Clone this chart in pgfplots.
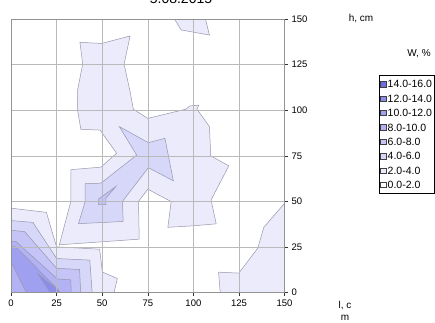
\documentclass[border=0pt]{standalone}
\usepackage{pgfplots}
\pgfplotsset{compat=1.18}
\usepackage{fontspec}
\setmainfont{Liberation Sans}

\definecolor{cA}{RGB}{235,235,252}
\definecolor{cB}{RGB}{215,215,250}
\definecolor{cC}{RGB}{196,196,247}
\definecolor{cD}{RGB}{178,178,244}
\definecolor{cE}{RGB}{160,160,240}
\definecolor{cF}{RGB}{140,140,236}
\definecolor{cG}{RGB}{110,110,222}
\definecolor{edge}{RGB}{150,150,172}

\begin{document}
\begin{tikzpicture}
\begin{axis}[
  scale only axis, width=273.6pt, height=273.6pt,
  xmin=0, xmax=150, ymin=0, ymax=150,
  xtick={0,25,...,150}, ytick={0,25,...,150},
  xtick pos=lower, ytick pos=right,
  yticklabel pos=right,
  tick align=outside, major tick length=3.5pt,
  grid=major, major grid style={gray!55, line width=0.6pt},
  axis line style={gray!85, line width=0.6pt},
  tick style={black!80, line width=0.6pt},
  ticklabel style={font=\fontsize{9.5}{11}\selectfont},
  /pgf/number format/assume math mode=true,
  axis on top,
  legend cell align=left,
  legend image code/.code={\draw[#1, draw=black!75, line width=0.5pt] (0pt,-2.7pt) rectangle (5.4pt,2.7pt);},
  legend style={at={(1.345,0.795)}, anchor=north west, draw=black, line width=0.6pt,
    font=\fontsize{10.5}{12}\selectfont, inner xsep=1pt, inner ysep=1.5pt, row sep=0pt,
    nodes={inner xsep=1.5pt, inner ysep=3.3pt, text height=7.8pt, text depth=0pt}},
]
\coordinate (sw) at (rel axis cs:0,0);

% level 2-4
\addplot[fill=cA, draw=edge, line width=0.5pt, forget plot] coordinates {
 (37.8,137.2) (49.7,136.6) (65.3,140.7) (62,125.3) (65.3,110.1) (67.1,100.5)
 (75,95.5) (96,100.6) (97.9,102.3) (103,102.8) (101.9,100.6) (108.8,91)
 (109.5,75) (119.4,69.5) (109.7,50.8) (112.5,37.7) (99.7,36.6) (86,35.8)
 (87.8,49.9) (75,56.7) (69.9,50) (70.3,29.3) (26.5,26.2) (32.8,50)
 (32.8,67.4) (49.3,68.8) (57.9,76.4) (48.8,89.1) (38.3,89.5) (36.4,100.5)
 (36.5,111) (39.3,125.3) (37.8,137.2)} -- cycle;
\addplot[fill=cA, draw=edge, line width=0.5pt, forget plot] coordinates {
 (89.6,150) (93.3,144) (108.8,141.2) (106.6,150)} -- cycle;
\addplot[fill=cA, draw=edge, line width=0.5pt, forget plot] coordinates {
 (150,49) (138.6,35.8) (135.3,24.4) (124.9,10.7) (113.8,11.2) (114.7,0) (150,0)} -- cycle;
\addplot[fill=cA, draw=edge, line width=0.5pt, forget plot] coordinates {
 (0,46.3) (19.4,44) (25,25.1) (48.6,23.8) (50.1,11.3) (58.3,7.7) (56.5,0) (0,0)} -- cycle;

% level 4-6
\addplot[fill=cB, draw=edge, line width=0.5pt, forget plot] coordinates {
 (59.4,91) (75.3,82.2) (84.4,84.6) (89,61.3) (75.3,68.5) (61.1,50) (61.5,39)
 (37,37.8) (40.7,50) (40.7,59.7) (49.3,60) (68.9,75.4)} -- cycle;
\addplot[fill=cB, draw=edge, line width=0.5pt, forget plot] coordinates {
 (0,39.5) (12,38.5) (25,18.7) (43.2,17.8) (44.5,0) (0,0)} -- cycle;

% level 6-8
\addplot[fill=cC, draw=edge, line width=0.5pt, forget plot] coordinates {
 (48,48.2) (52,48.2) (52,51.8) (57.5,58.2) (48,51.3)} -- cycle;
\addplot[fill=cC, draw=edge, line width=0.5pt, forget plot] coordinates {
 (0,34.2) (7.5,33.4) (25,13.3) (37.6,12.7) (38.2,0) (0,0)} -- cycle;

% level 8-10
\addplot[fill=cD, draw=edge, line width=0.5pt, forget plot] coordinates {
 (0,28) (2.8,27.9) (25.4,7.5) (32.8,7) (33,0) (0,0)} -- cycle;

% level 10-12
\addplot[fill=cE, draw=edge, line width=0.5pt, forget plot] coordinates {
 (0,25.3) (2.7,25) (25.8,1.6) (27,0) (8.4,0) (0,17.1)} -- cycle;

% level 12-14
\addplot[fill=cF, draw=edge, line width=0.5pt, forget plot] coordinates {
 (14.8,10.2) (25.5,1.5) (26,0) (21.5,0)} -- cycle;

\addlegendimage{fill=cG}\addlegendentry{14.0-16.0}
\addlegendimage{fill=cF}\addlegendentry{12.0-14.0}
\addlegendimage{fill=cE}\addlegendentry{10.0-12.0}
\addlegendimage{fill=cD}\addlegendentry{8.0-10.0}
\addlegendimage{fill=cC}\addlegendentry{6.0-8.0}
\addlegendimage{fill=cB}\addlegendentry{4.0-6.0}
\addlegendimage{fill=cA}\addlegendentry{2.0-4.0}
\addlegendimage{fill=white}\addlegendentry{0.0-2.0}
\end{axis}

\node[anchor=base, font=\fontsize{14}{16}\selectfont, inner sep=0pt] at ([shift={(170pt,289.1pt)}]sw) {5.08.2015};
\node[font=\fontsize{10}{12}\selectfont, inner sep=0pt] at ([shift={(350pt,274.3pt)}]sw) {h, cm};
\node[font=\fontsize{10}{12}\selectfont, inner sep=0pt] at ([shift={(408pt,238.6pt)}]sw) {W, \%};
\node[anchor=north, align=center, font=\fontsize{10}{12}\selectfont, inner sep=0pt] at ([shift={(334pt,-8.5pt)}]sw) {l, c\\m};

\pgfresetboundingbox
\path[use as bounding box] ([shift={(-11pt,-29.4pt)}]sw) rectangle ++(435pt,322pt);
\end{tikzpicture}
\end{document}
